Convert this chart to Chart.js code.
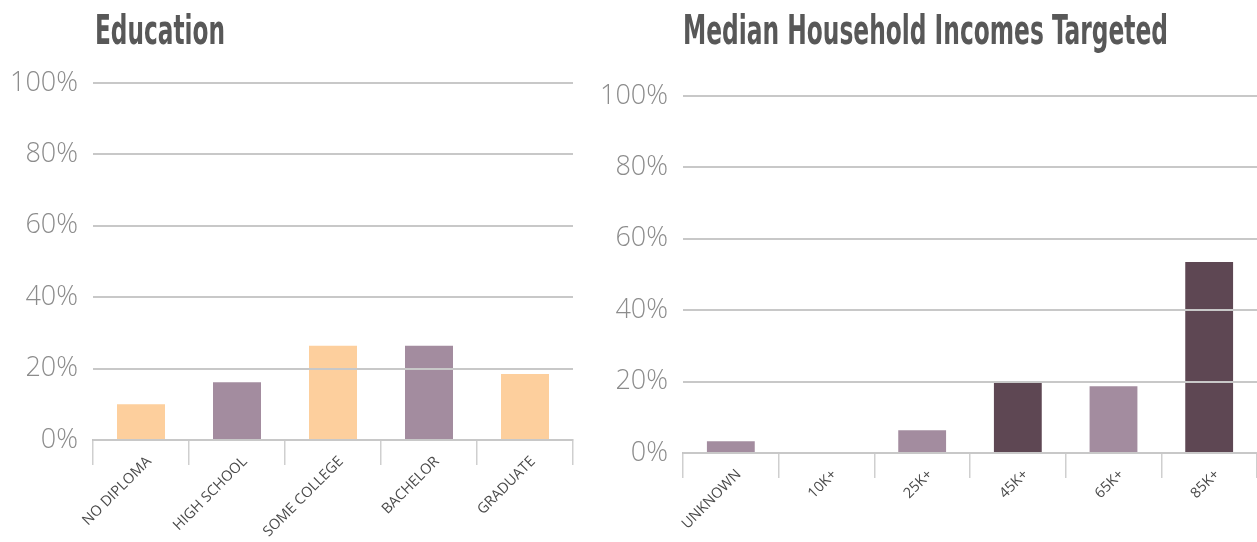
<!DOCTYPE html>
<html>
<head>
<meta charset="utf-8">
<script src="https://cdn.jsdelivr.net/npm/chart.js@4.4.0/dist/chart.umd.min.js"></script>
<style>
  html, body { margin: 0; padding: 0; background: #fff; }
  body { width: 1257px; height: 542px; position: relative; overflow: hidden; }
  .box { position: absolute; top: 0; height: 542px; }
  .title {
    position: absolute; top: 4px; margin: 0; white-space: nowrap;
    font-family: "DejaVu Sans Condensed", "Liberation Sans Narrow", sans-serif;
    font-weight: bold; font-size: 41px; line-height: 52px; color: #585858;
    transform-origin: left top;
  }
</style>
</head>
<body>
<div class="box" style="left:0;width:585px"><canvas id="eduChart"></canvas></div>
<div class="box" style="left:585px;width:672px"><canvas id="incomeChart"></canvas></div>
<h2 class="title" id="t1" style="left:95px" data-w="130">Education</h2>
<h2 class="title" id="t2" style="left:683px" data-w="485">Median Household Incomes Targeted</h2>
<script>
// education data
const eduLabels = ['NO DIPLOMA', 'HIGH SCHOOL', 'SOME COLLEGE', 'BACHELOR', 'GRADUATE'];
const eduValues = [10, 16.2, 26.4, 26.4, 18.5];
const eduColors = ['#fdcf9d', '#a38c9f', '#fdcf9d', '#a38c9f', '#fdcf9d'];

// income data
const incomeLabels = ['UNKNOWN', '10K+', '25K+', '45K+', '65K+', '85K+'];
const incomeValues = [3.3, 0, 6.4, 20, 18.7, 53.5];
const incomeColors = ['#a38c9f', '#a38c9f', '#a38c9f', '#5e4753', '#a38c9f', '#5e4753'];

// y axis ticks
const yTicks = [0, 20, 40, 60, 80, 100];

// squeeze titles to the condensed width of the original
document.querySelectorAll('.title').forEach(el => {
    const w = el.getBoundingClientRect().width;
    el.style.transform = 'scaleX(' + (el.dataset.w / w) + ')';
});

function makeChart(id, labels, values, colors, opts) {
    return new Chart(document.getElementById(id), {
        type: 'bar',
        data: {
            labels: labels,
            datasets: [{
                data: values,
                backgroundColor: colors,
                categoryPercentage: 1,
                barPercentage: 0.5
            }]
        },
        options: {
            responsive: false,
            animation: false,
            layout: { padding: { top: opts.top, right: opts.right, left: 0, bottom: 0 } },
            plugins: { legend: { display: false }, tooltip: { enabled: false } },
            scales: {
                x: {
                    grid: {
                        offset: true,
                        drawOnChartArea: false,
                        drawTicks: true,
                        tickLength: 25,
                        color: '#cfcfcf',
                        lineWidth: 1.5
                    },
                    border: { color: '#c4c4c4', width: 2, z: 1 },
                    ticks: {
                        minRotation: 45, maxRotation: 45, autoSkip: false,
                        color: '#4a4a4a',
                        padding: -12,
                        labelOffset: 8,
                        font: { family: '"Open Sans", sans-serif', size: 14.5 }
                    },
                    afterFit: s => { s.height = opts.bottom; }
                },
                y: {
                    min: 0, max: 100,
                    afterBuildTicks: s => { s.ticks = yTicks.map(v => ({ value: v })); },
                    grid: { color: '#c8c8c8', lineWidth: 2, drawTicks: false, z: 1 },
                    border: { display: false },
                    ticks: {
                        color: '#8c8c8c',
                        padding: 15,
                        font: { family: '"Open Sans", sans-serif', size: 27, weight: 300 },
                        callback: v => v + '%'
                    },
                    afterFit: s => { s.width = opts.axisW; }
                }
            }
        }
    });
}

document.getElementById('eduChart').width = 585;
document.getElementById('eduChart').height = 542;
document.getElementById('incomeChart').width = 672;
document.getElementById('incomeChart').height = 542;

makeChart('eduChart', eduLabels, eduValues, eduColors, { top: 83, right: 12, bottom: 102, axisW: 93 });
makeChart('incomeChart', incomeLabels, incomeValues, incomeColors, { top: 96, right: 0, bottom: 89, axisW: 98 });
</script>
</body>
</html>
